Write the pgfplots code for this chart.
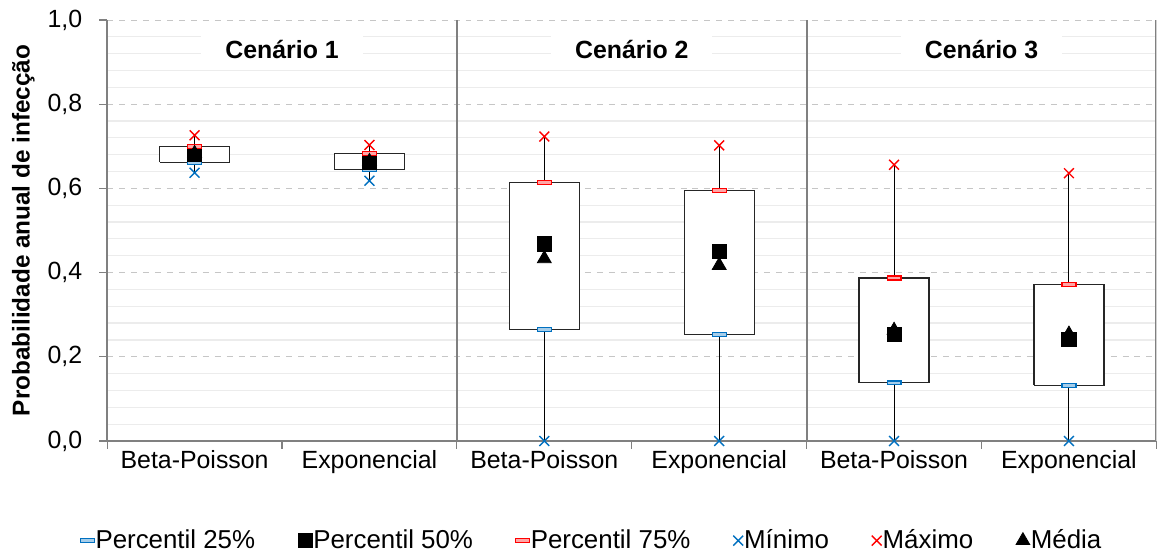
\documentclass[border=0pt]{standalone}
\usepackage{pgfplots}
\pgfplotsset{compat=1.18}
\usepackage{pgfplotstable}
\usepackage{fontspec}
\setmainfont{Liberation Sans}
\definecolor{myblue}{RGB}{0,112,192}
\definecolor{myred}{RGB}{255,0,0}
\definecolor{sep}{RGB}{128,128,128}

% x: position, min, q1, med, q3, max, mean
\pgfplotstableread{
x   mn    qa    md    qc    mx    av
0.5 0.637 0.662 0.680 0.700 0.726 0.683
1.5 0.618 0.644 0.663 0.682 0.703 0.664
2.5 0.000 0.265 0.468 0.614 0.723 0.433
3.5 0.000 0.253 0.450 0.595 0.702 0.417
4.5 0.000 0.138 0.253 0.387 0.656 0.263
5.5 0.000 0.132 0.242 0.372 0.636 0.254
}\stats

\begin{document}
\begin{tikzpicture}
\begin{axis}[
  scale only axis,
  width=527pt, height=211.5pt,
  xmin=0, xmax=6, ymin=0, ymax=1,
  axis x line*=bottom, axis y line*=left,
  axis line style={sep, line width=0.8pt},
  every tick/.style={sep, line width=0.6pt},
  tick align=outside,
  major tick length=4pt,
  minor tick length=0pt,
  xtick={0,1,...,6}, xticklabels={},
  extra x ticks={0.5,1.5,2.5,3.5,4.5,5.5},
  extra x tick labels={Beta-Poisson,Exponencial,Beta-Poisson,Exponencial,Beta-Poisson,Exponencial},
  extra x tick style={major tick length=0pt, grid=none},
  ytick={0,0.2,...,1.0},
  minor y tick num=4,
  ymajorgrids, yminorgrids,
  major grid style={dashed, gray!45, line width=0.4pt},
  minor grid style={solid, gray!15, line width=0.6pt},
  yticklabel style={xshift=-5pt, /pgf/number format/.cd, fixed, fixed zerofill, precision=1, use comma, assume math mode=true},
  tick label style={font=\fontsize{12.5}{14}\selectfont},
  ylabel={\bfseries Probabilidade anual de infecção},
  ylabel style={font=\fontsize{12.2}{14}\selectfont, inner ysep=6pt, yshift=-3pt},
  xticklabel style={yshift=-1pt},
  legend image code/.code={\draw[mark repeat=2,mark phase=2] plot coordinates {(0cm,0cm) (0.13cm,0cm) (0.26cm,0cm)};},
  legend style={at={(0.463,-0.2)}, anchor=north, draw=none, inner ysep=0pt, font=\fontsize{13}{14}\selectfont,
    legend columns=6, /tikz/every even column/.append style={column sep=19.5pt},
    /tikz/every odd column/.append style={column sep=-1.5pt}},
  legend cell align=left,
]
% separators
\draw[sep, line width=1pt] (axis cs:2,0) -- (axis cs:2,1);
\draw[sep, line width=1pt] (axis cs:4,0) -- (axis cs:4,1);
\draw[sep, line width=1pt] (axis cs:6,0) -- (axis cs:6,1);
% titles
\node[fill=white, font=\fontsize{12.5}{14}\selectfont\bfseries, inner xsep=12pt, inner ysep=3pt] at (axis cs:1,0.93) {Cenário 1};
\node[fill=white, font=\fontsize{12.5}{14}\selectfont\bfseries, inner xsep=12pt, inner ysep=3pt] at (axis cs:3,0.93) {Cenário 2};
\node[fill=white, font=\fontsize{12.5}{14}\selectfont\bfseries, inner xsep=12pt, inner ysep=3pt] at (axis cs:5,0.93) {Cenário 3};
% whiskers
\addplot[black, line width=0.5pt, forget plot] coordinates {(0.5,0.637) (0.5,0.726)};
\addplot[black, line width=0.5pt, forget plot] coordinates {(1.5,0.618) (1.5,0.703)};
\addplot[black, line width=0.5pt, forget plot] coordinates {(2.5,0.000) (2.5,0.723)};
\addplot[black, line width=0.5pt, forget plot] coordinates {(3.5,0.000) (3.5,0.702)};
\addplot[black, line width=0.5pt, forget plot] coordinates {(4.5,0.000) (4.5,0.656)};
\addplot[black, line width=0.5pt, forget plot] coordinates {(5.5,0.000) (5.5,0.636)};
% boxes
\addplot[draw=black!85, fill=white, line width=0.6pt, forget plot] coordinates {(0.3,0.662) (0.7,0.662) (0.7,0.700) (0.3,0.700) (0.3,0.662)};
\addplot[draw=black!85, fill=white, line width=0.6pt, forget plot] coordinates {(1.3,0.644) (1.7,0.644) (1.7,0.682) (1.3,0.682) (1.3,0.644)};
\addplot[draw=black!85, fill=white, line width=0.6pt, forget plot] coordinates {(2.3,0.265) (2.7,0.265) (2.7,0.614) (2.3,0.614) (2.3,0.265)};
\addplot[draw=black!85, fill=white, line width=0.6pt, forget plot] coordinates {(3.3,0.253) (3.7,0.253) (3.7,0.595) (3.3,0.595) (3.3,0.253)};
\addplot[draw=black!85, fill=white, line width=0.6pt, forget plot] coordinates {(4.3,0.138) (4.7,0.138) (4.7,0.387) (4.3,0.387) (4.3,0.138)};
\addplot[draw=black!85, fill=white, line width=0.6pt, forget plot] coordinates {(5.3,0.132) (5.7,0.132) (5.7,0.372) (5.3,0.372) (5.3,0.132)};
% markers
\addplot[only marks, mark=square*, mark size=3.5pt, mark options={yscale=0.28, draw=myblue, fill=myblue!35!white, line width=0.6pt}] table[x=x, y=qa] {\stats};
\addlegendentry{Percentil 25\%}
\addplot[only marks, mark=square*, mark size=3.6pt, mark options={draw=black, fill=black}] table[x=x, y=md] {\stats};
\addlegendentry{Percentil 50\%}
\addplot[only marks, mark=square*, mark size=3.5pt, mark options={yscale=0.28, draw=myred, fill=myred!35!white, line width=0.6pt}] table[x=x, y=qc] {\stats};
\addlegendentry{Percentil 75\%}
\addplot[only marks, mark=x, mark size=3.5pt, mark options={draw=myblue, line width=0.7pt}] table[x=x, y=mn] {\stats};
\addlegendentry{Mínimo}
\addplot[only marks, mark=x, mark size=3.5pt, mark options={draw=myred, line width=0.7pt}] table[x=x, y=mx] {\stats};
\addlegendentry{Máximo}
\addplot[only marks, mark=triangle*, mark size=4pt, mark options={draw=black, fill=black}] table[x=x, y=av] {\stats};
\addlegendentry{Média}
\end{axis}
\path ([yshift=10pt]current axis.north);
\end{tikzpicture}
\end{document}
